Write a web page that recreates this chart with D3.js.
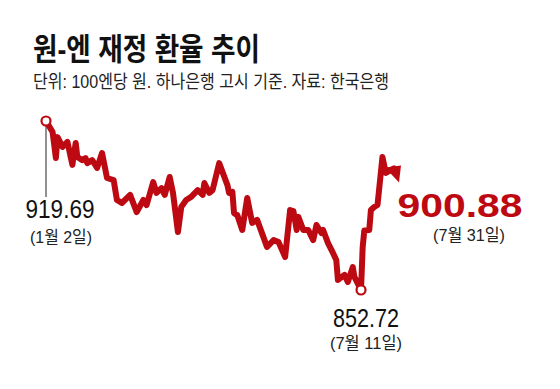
<!DOCTYPE html>
<html>
<head>
<meta charset="utf-8">
<script src="https://cdn.jsdelivr.net/npm/d3@7"></script>
<style>
  body { margin: 0; background: #fff; }
  text { font-family: "Liberation Sans", "Noto Sans CJK KR", sans-serif; }
</style>
</head>
<body>
<div id="chart"></div>
<script>
// Data, 2024 won per 100 yen
var dates = ["2024-01-02","2024-01-06","2024-01-08","2024-01-09","2024-01-12","2024-01-15","2024-01-18","2024-01-20","2024-01-21","2024-01-24",
  "2024-01-26","2024-01-27","2024-01-30","2024-02-02","2024-02-05","2024-02-08","2024-02-12","2024-02-14","2024-02-17","2024-02-22",
  "2024-02-26","2024-03-01","2024-03-03","2024-03-07","2024-03-09","2024-03-12","2024-03-14","2024-03-17","2024-03-19","2024-03-22",
  "2024-03-24","2024-03-27","2024-03-30","2024-04-03","2024-04-06","2024-04-07","2024-04-10","2024-04-12","2024-04-16","2024-04-21",
  "2024-04-22","2024-04-24","2024-04-25","2024-04-27","2024-04-30","2024-05-03","2024-05-06","2024-05-09","2024-05-15","2024-05-19",
  "2024-05-22","2024-05-26","2024-05-29","2024-05-31","2024-06-02","2024-06-03","2024-06-06","2024-06-09","2024-06-12","2024-06-14",
  "2024-06-17","2024-06-18","2024-06-21","2024-06-24","2024-06-26","2024-06-27","2024-07-01","2024-07-03","2024-07-06","2024-07-07",
  "2024-07-11","2024-07-12","2024-07-13","2024-07-16","2024-07-17","2024-07-19","2024-07-21","2024-07-24","2024-07-26","2024-07-28",
  "2024-07-31"];

var rates = [919.69, 915.3, 905.0, 913.3, 909.4, 911.4, 902.3, 911.0, 905.4, 904.2,
  905.0, 903.0, 904.2, 901.1, 907.0, 897.1, 896.3, 888.4, 887.2, 890.4,
  883.6, 888.4, 886.4, 895.5, 891.2, 893.1, 890.4, 897.5, 891.2, 875.7,
  885.6, 888.4, 889.6, 892.3, 890.4, 895.1, 891.2, 892.3, 903.0, 894.3,
  891.2, 891.6, 883.2, 882.4, 876.5, 889.2, 879.3, 880.5, 869.8, 872.5,
  871.7, 865.8, 884.4, 884.0, 876.5, 881.7, 876.5, 876.5, 872.5, 878.5,
  875.3, 876.5, 871.3, 867.4, 864.6, 856.7, 858.7, 855.9, 861.8, 857.9,
  852.72, 869.6, 876.3, 876.5, 884.4, 885.6, 886.4, 905.4, 899.1, 899.8,
  900.88];

// annotation labels
var startLabel = ["919.69", "(1월 2일)"];
var minLabel = ["852.72", "(7월 11일)"];
var endLabel = ["900.88", "(7월 31일)"];

var title = "원-엔 재정 환율 추이";
var subtitle = "단위: 100엔당 원. 하나은행 고시 기준. 자료: 한국은행";

var red = "#bd0a12";

var svg = d3.select("#chart")
  .append("svg")
  .attr("width", 560)
  .attr("height", 389);

svg.append("rect").attr("width", 560).attr("height", 389).attr("fill", "#fff");

var parse = d3.timeParse("%Y-%m-%d");
var data = dates.map(function (d, i) {
  return { date: parse(d), rate: rates[i] };
});

var x = d3.scaleTime()
  .domain(d3.extent(data, d => d.date))
  .range([46, 394]);

var y = d3.scaleLinear()
  .domain(d3.extent(data, d => d.rate))
  .range([290, 121]);

// title
svg.append("text")
  .attr("x", 33).attr("y", 60)
  .attr("textLength", 227).attr("lengthAdjust", "spacingAndGlyphs")
  .style("font-size", "31px").style("font-weight", "bold")
  .attr("fill", "#111")
  .text(title);

svg.append("text")
  .attr("x", 33).attr("y", 88)
  .attr("textLength", 356).attr("lengthAdjust", "spacingAndGlyphs")
  .style("font-size", "18px")
  .attr("fill", "#222")
  .text(subtitle);

var first = data[0];
var last = data[data.length - 1];
var low = data[d3.minIndex(data, d => d.rate)];

// leader line from first point
svg.append("line")
  .attr("x1", x(first.date)).attr("x2", x(first.date))
  .attr("y1", y(first.rate)).attr("y2", 197)
  .attr("stroke", "#222").attr("stroke-width", 1);

// the line
var line = d3.line()
  .x(d => x(d.date))
  .y(d => y(d.rate));

svg.append("path")
  .datum(data)
  .attr("d", line)
  .attr("fill", "none")
  .attr("stroke", red)
  .attr("stroke-width", 6)
  .attr("stroke-linejoin", "round")
  .attr("stroke-linecap", "round");

// arrow head at the end
var ex = x(last.date), ey = y(last.rate);
svg.append("path")
  .attr("d", `M${ex - 9},${ey - 1} L${ex + 7},${ey - 3} L${ex + 5},${ey + 14} Z`)
  .attr("fill", red);

// markers
svg.selectAll("circle.mark")
  .data([first, low])
  .enter()
  .append("circle")
  .attr("class", "mark")
  .attr("cx", d => x(d.date))
  .attr("cy", d => y(d.rate))
  .attr("r", 4.5)
  .attr("fill", "#fff")
  .attr("stroke", red)
  .attr("stroke-width", 2.2);

// labels
function label(cx, yy, txt, size, width, color, weight) {
  svg.append("text")
    .attr("x", cx).attr("y", yy)
    .attr("text-anchor", "middle")
    .attr("textLength", width).attr("lengthAdjust", "spacingAndGlyphs")
    .style("font-size", size + "px")
    .style("font-weight", weight || "normal")
    .attr("fill", color)
    .text(txt);
}

label(60, 218, startLabel[0], 25, 69, "#111");
label(61, 243, startLabel[1], 17, 62, "#222");

label(366, 327, minLabel[0], 25, 66, "#111");
label(366, 349, minLabel[1], 17, 72, "#222");

label(460, 217, endLabel[0], 34, 125, red, "bold");
label(469, 241, endLabel[1], 17, 72, "#222");
</script>
</body>
</html>
